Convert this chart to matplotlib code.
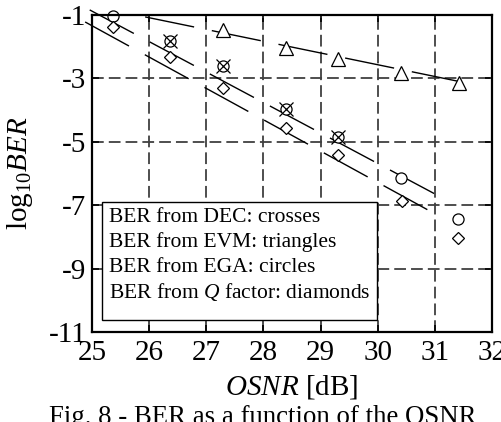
import matplotlib
matplotlib.use("Agg")
import matplotlib.pyplot as plt
from matplotlib.patches import Rectangle

plt.rcParams['font.family'] = ['Liberation Serif', 'DejaVu Serif']
plt.rcParams['mathtext.fontset'] = 'custom'
plt.rcParams['mathtext.rm'] = 'Liberation Serif'
plt.rcParams['mathtext.it'] = 'Liberation Serif:italic'

# measured points (OSNR in dB, log10 BER)
osnr_dec = [26.37, 27.30, 28.40, 29.30]
ber_dec = [-1.82, -2.61, -3.97, -4.85]

osnr_evm = [27.30, 28.39, 29.30, 30.40, 31.42]
ber_evm = [-1.47, -2.04, -2.39, -2.83, -3.15]

osnr_ega = [25.37, 26.37, 27.30, 28.40, 29.30, 30.40, 31.40]
ber_ega = [-1.03, -1.82, -2.61, -3.97, -4.85, -6.14, -7.43]

osnr_q = [25.37, 26.37, 27.30, 28.40, 29.30, 30.42, 31.40]
ber_q = [-1.38, -2.32, -3.30, -4.56, -5.42, -6.88, -8.03]

# fitted lines (end points)
fit_upper_x = [24.96, 31.10]
fit_upper_y = [-0.84, -6.74]
fit_lower_x = [24.88, 30.98]
fit_lower_y = [-1.22, -7.25]
fit_evm_x = [25.93, 31.46]
fit_evm_y = [-1.06, -3.11]

xticks = [25, 26, 27, 28, 29, 30, 31, 32]
yticks = [-1, -3, -5, -7, -9, -11]

legend_lines = ["BER from DEC: crosses",
                "BER from EVM: triangles",
                "BER from EGA: circles",
                r"BER from $\mathit{Q}$ factor: diamonds"]

fig = plt.figure(figsize=(5.02, 4.22), dpi=100)
ax = fig.add_axes([92/502, 1-332/422, 400/502, 317/422])

for xs, ys in [(fit_upper_x, fit_upper_y), (fit_lower_x, fit_lower_y), (fit_evm_x, fit_evm_y)]:
    ax.plot(xs, ys, color='black', lw=1.0, dashes=(36, 13), clip_on=False, zorder=3)

ax.plot(osnr_ega, ber_ega, 'o', ms=8, mfc='white', mec='black', mew=0.9, clip_on=False, zorder=4)
ax.plot(osnr_dec, ber_dec, 'x', ms=10, color='black', mew=0.9, clip_on=False, zorder=5)
ax.plot(osnr_q, ber_q, 'D', ms=6, mfc='white', mec='black', mew=0.9, clip_on=False, zorder=4)
ax.plot(osnr_evm, ber_evm, '^', ms=10, mfc='white', mec='black', mew=0.9, clip_on=False, zorder=4)

ax.set_xlim(25, 32)
ax.set_ylim(-11, -1)
ax.set_xticks(xticks)
ax.set_yticks(yticks)
ax.set_xticklabels([str(v) for v in xticks])
ax.set_yticklabels([str(v) for v in yticks])
ax.tick_params(direction='in', length=5, width=1.2, top=True, right=True, labelsize=21)
ax.tick_params(axis='x', pad=6)
ax.tick_params(axis='y', pad=4)
ax.set_axisbelow(True)
ax.grid(True, color='#404040', lw=1.3, linestyle=(0, (6.5, 2.8)))
for s in ax.spines.values():
    s.set_linewidth(1.6)
    s.set_zorder(8)

ax.set_xlabel(r'$\mathit{OSNR}$ [dB]', fontsize=21, labelpad=5)
ax.set_ylabel(r'log$_{10}$$\mathit{BER}$', fontsize=21, labelpad=10)

# annotation box
ax.add_patch(Rectangle((0.025, 0.038), 0.6875, 0.372, transform=ax.transAxes,
                       facecolor='white', edgecolor='black', lw=1.0, zorder=6))
for i, t in enumerate(legend_lines):
    ax.text(0.043, 0.362 - i*0.079, t, transform=ax.transAxes, fontsize=15.5,
            va='center', ha='left', zorder=7)

fig.text(0.524, 1-405/422, "Fig. 8 - BER as a function of the OSNR", fontsize=19.3,
         ha='center', va='top')

fig.savefig("out.png", dpi=100)
